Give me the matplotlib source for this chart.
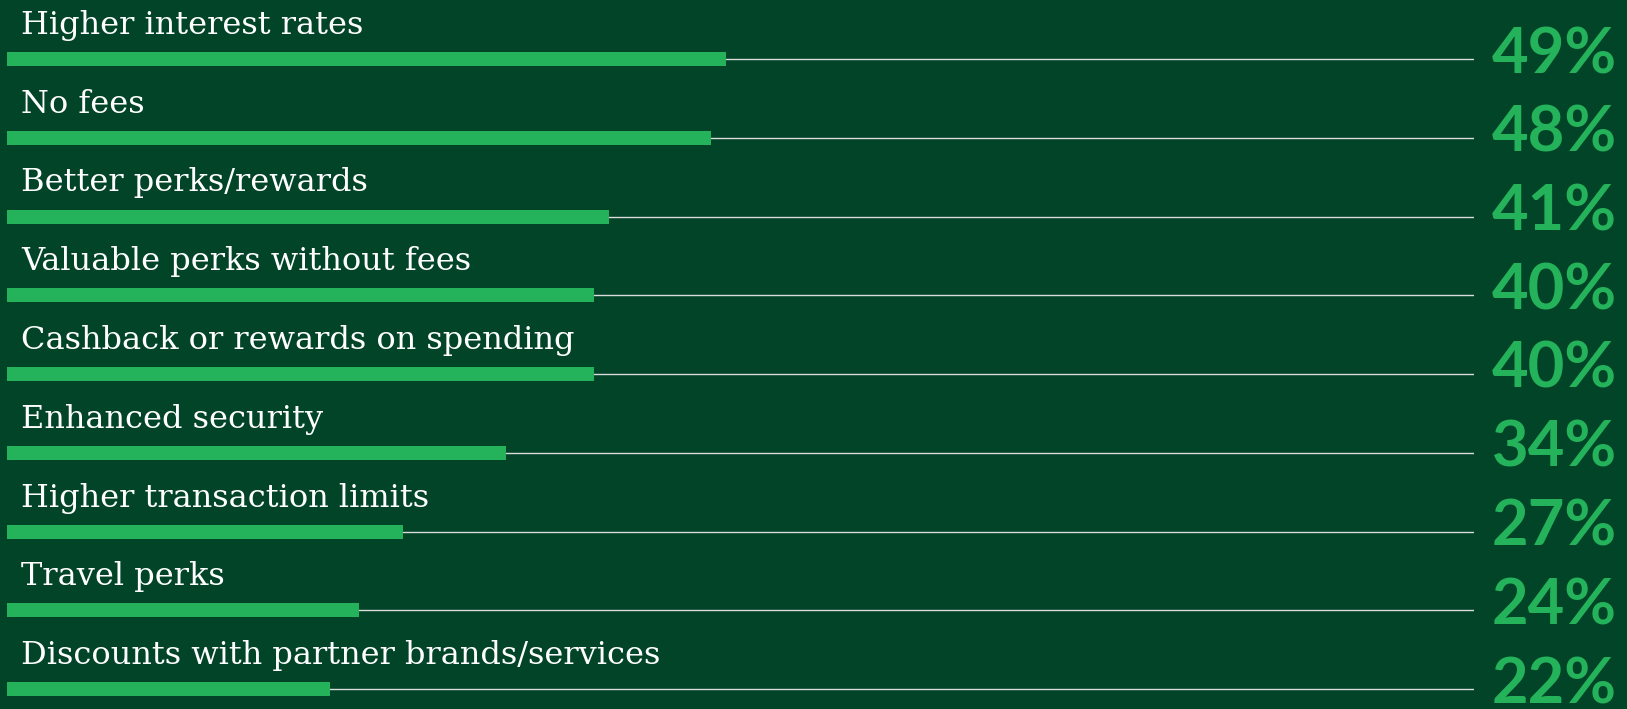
import numpy as np
import matplotlib
matplotlib.use("Agg")
import matplotlib.pyplot as plt

# --- data ---
labels = [
    "Higher interest rates",
    "No fees",
    "Better perks/rewards",
    "Valuable perks without fees",
    "Cashback or rewards on spending",
    "Enhanced security",
    "Higher transaction limits",
    "Travel perks",
    "Discounts with partner brands/services",
]
shares = [49, 48, 41, 40, 40, 34, 27, 24, 22]

# --- style ---
bg = "#014427"
green = "#24B35A"
rule = "#DCDCDC"

W, H = 1627, 709
fig = plt.figure(figsize=(W / 100, H / 100), dpi=100, facecolor=bg)

# axes spans 0..100% horizontally, one unit per row vertically
x0, x1 = 7.3, 1474.0
ax = fig.add_axes([x0 / W, 0, (x1 - x0) / W, 1])
ax.set_facecolor(bg)
ax.set_xlim(0, 100)
row = 78.75
top = 59.0
ax.set_ylim((H - top) / row, -top / row)
ax.axis("off")

y = np.arange(len(labels))
ax.hlines(y, 0, 100, color=rule, lw=1.0, zorder=1)
ax.barh(y, shares, height=14 / row, left=0, color=green, zorder=2)

for i, (lab, v) in enumerate(zip(labels, shares)):
    ax.text(0.92, i - 25 / row, lab, ha="left", va="baseline",
            color="white", fontsize=23, family="DejaVu Serif")
    ax.text(101.2, i + 14 / row, f"{v}%", ha="left", va="baseline",
            color=green, fontsize=45.5, family="Lato", fontweight="bold",
            clip_on=False)

fig.savefig("out.png", dpi=100, facecolor=bg)
